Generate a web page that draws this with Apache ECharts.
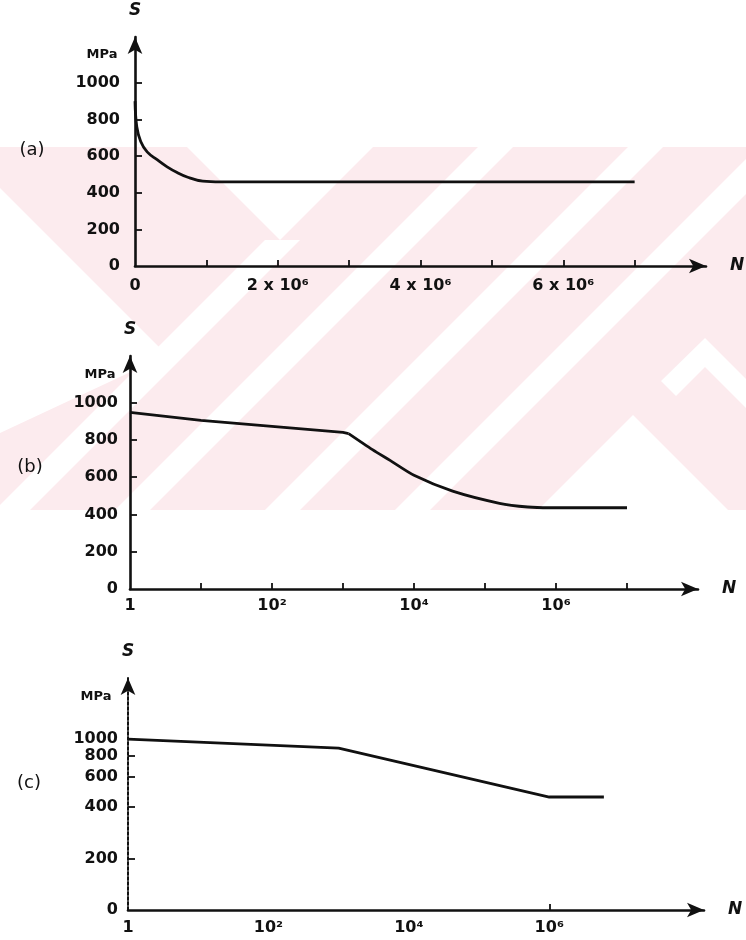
<!DOCTYPE html>
<html><head><meta charset="utf-8">
<script src="https://cdn.jsdelivr.net/npm/echarts@6/dist/echarts.min.js"></script>
<style>html,body{margin:0;padding:0;background:#fff}#c{width:746px;height:940px}</style>
</head><body><div id="c"></div>
<script>
// ---------- data ----------
// (a) linear N axis
const aN = [0, 25000, 80000, 170000, 310000, 450000, 590000, 730000, 950000, 1200000, 7000000];
const aS = [900, 760, 680, 623, 580, 541, 510, 486, 463, 459, 459];
const aXTickVals = [1e6, 2e6, 3e6, 4e6, 5e6, 6e6, 7e6];
const aXLabelVals = [0, 2e6, 4e6, 6e6];
const aXLabelText = ['0', '2 x 10⁶', '4 x 10⁶', '6 x 10⁶'];
const sLabelVals = [0, 200, 400, 600, 800, 1000];
const sTickVals = [200, 400, 600, 800, 1000];
// (b) log N axis, linear S
const bN1 = [1, 10, 100, 1000, 1200];
const bS1 = [948, 905, 872, 840, 834];
const bN2 = [1200, 2600, 4600, 10000, 35000, 160000, 400000, 800000, 1e7];
const bS2 = [834, 748, 690, 610, 525, 460, 440, 436, 436];
const logTickVals = [10, 100, 1000, 1e4, 1e5, 1e6, 1e7];
const logLabelVals = [1, 100, 1e4, 1e6];
const logLabelText = ['1', '10²', '10⁴', '10⁶'];
// (c) log N, log S
const cN = [1, 1000, 1e6, 6e6];
const cS = [1000, 885, 458, 458];
const cYLabelVals = [100, 200, 400, 600, 800, 1000];
const cYLabelText = ['0', '200', '400', '600', '800', '1000'];
const cYTickVals = [200, 400, 600, 800];
const cXTickVals = [1e6];

// ---------- helpers ----------
const INK = '#111';
const FONT = 'DejaVu Sans';
function pick(vals, texts, v, isLog) {
  let best = 0, bd = Infinity;
  vals.forEach((x, i) => {
    const d = isLog ? Math.abs(Math.log10(v) - Math.log10(x)) : Math.abs(v - x);
    if (d < bd) { bd = d; best = i; }
  });
  return texts[best];
}
const lbl = (extra) => Object.assign({color: INK, fontFamily: FONT, fontSize: 16, fontWeight: 'bold'}, extra);
function xAx(idx, type, min, max, tickVals, labelVals, labelText, margin) {
  const isLog = type === 'log';
  return {
    gridIndex: idx, type, min, max, logBase: 10,
    splitLine: {show: false}, minorTick: {show: false},
    axisLine: {show: true, onZero: false, symbol: ['none', 'arrow'], symbolSize: [11, 17], lineStyle: {color: INK, width: 2.6}},
    axisTick: {show: true, inside: true, length: 6, customValues: tickVals, lineStyle: {color: INK, width: 1.8}},
    axisLabel: lbl({customValues: labelVals, margin, formatter: v => pick(labelVals, labelText, v, isLog)}),
    name: 'N', nameLocation: 'end', nameGap: 24,
    nameTextStyle: {color: INK, fontFamily: FONT, fontSize: 17, fontStyle: 'italic', fontWeight: 'bold', verticalAlign: 'middle'}
  };
}
function yAx(idx, type, min, max, tickVals, labelVals, labelText, margin, lineExtra) {
  const isLog = type === 'log';
  return {
    gridIndex: idx, type, min, max, logBase: 10,
    splitLine: {show: false}, minorTick: {show: false},
    axisLine: {show: true, onZero: false, symbol: ['none', 'arrow'], symbolSize: [11, 17],
      lineStyle: Object.assign({color: INK, width: 2.6}, lineExtra || {})},
    axisTick: {show: true, inside: true, length: 7, customValues: tickVals, lineStyle: {color: INK, width: 1.8}},
    axisLabel: lbl({customValues: labelVals, margin, formatter: v => pick(labelVals, labelText, v, isLog)}),
    name: 'S', nameLocation: 'end', nameGap: 18,
    nameTextStyle: {color: INK, fontFamily: FONT, fontSize: 17, fontWeight: 'bold', fontStyle: 'italic'}
  };
}
const lineStyle = {color: INK, width: 2.8};
function ser(x, y, xi, smooth) {
  return {type: 'line', xAxisIndex: xi, yAxisIndex: xi, data: x.map((n, i) => [n, y[i]]),
    showSymbol: false, smooth: smooth, lineStyle, z: 5, animation: false};
}

// ---------- watermark (background decoration) ----------
const PINK = '#fcebee';
const W = '#ffffff';
function poly(points, fill) { return {type: 'polygon', silent: true, z: -100, shape: {points}, style: {fill}}; }
const wm = [
  {type: 'rect', silent: true, z: -101, shape: {x: 0, y: 147, width: 746, height: 363}, style: {fill: PINK}},
  poly([[187,147],[373,147],[280,240]], W),
  poly([[265,240],[300,240],[30,510],[-5,510]], W),
  poly([[0,188],[167,355],[0,433]], W),
  poly([[478,147],[513,147],[150,510],[115,510]], W),
  poly([[628,147],[663,147],[300,510],[265,510]], W),
  poly([[758,147],[793,147],[430,510],[395,510]], W),
  poly([[633,415],[728,510],[538,510]], W),
  poly([[705,338],[746,379],[746,408],[705,367],[676,396],[661,381]], W)
];
const txt = (x, y, t, size, weight) => ({type: 'text', x, y, silent: true, z: 10,
  style: {text: t, fill: INK, font: `${weight || 'normal'} ${size}px "${FONT}"`, align: 'center', verticalAlign: 'middle'}});

const option = {
  backgroundColor: '#fff',
  animation: false,
  grid: [
    {left: 135, top: 37, width: 571, height: 229},
    {left: 130, top: 356, width: 568, height: 233},
    {left: 128, top: 678, width: 576, height: 232}
  ],
  xAxis: [
    xAx(0, 'value', 0, 8e6, aXTickVals, aXLabelVals, aXLabelText, 12),
    xAx(1, 'log', 1, 1e8, logTickVals, logLabelVals, logLabelText, 9),
    xAx(2, 'log', 1, 1.6e8, cXTickVals, logLabelVals, logLabelText, 10)
  ],
  yAxis: [
    yAx(0, 'value', 0, 1250, sTickVals, sLabelVals, sLabelVals.map(String), 15),
    yAx(1, 'value', 0, 1250, sTickVals, sLabelVals, sLabelVals.map(String), 12),
    yAx(2, 'log', 100, 2275, cYTickVals, cYLabelVals, cYLabelText, 10, {width: 2, type: [3, 2]})
  ],
  series: [
    ser(aN, aS, 0, 0.4),
    ser(bN1, bS1, 1, false),
    ser(bN2, bS2, 1, 0.25),
    ser(cN, cS, 2, false)
  ],
  graphic: wm.concat([
    txt(102, 55, 'MPa', 13, 'bold'),
    txt(100, 375, 'MPa', 13, 'bold'),
    txt(96, 697, 'MPa', 13, 'bold'),
    txt(32, 150, '(a)', 18),
    txt(30, 467, '(b)', 18),
    txt(29, 783, '(c)', 18)
  ])
};
const chart = echarts.init(document.getElementById('c'), null, {renderer: 'canvas'});
chart.setOption(option);
</script>
</body></html>
